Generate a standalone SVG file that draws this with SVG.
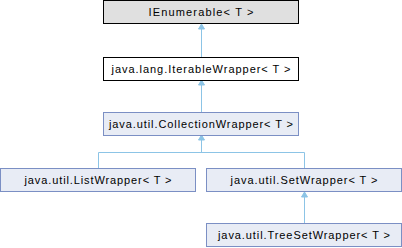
<svg xmlns="http://www.w3.org/2000/svg" width="402" height="248" viewBox="0 0 402 248">
<style>
.box{fill:#E8ECF5;stroke:#7B8FC4;stroke-width:1}
.t{font-family:"Liberation Sans",Arial,sans-serif;font-size:11px;fill:#000;text-anchor:middle}
.e{fill:none;stroke:#8CC4E6;stroke-width:1}
.ah{fill:#8CC4E6;stroke:#8CC4E6;stroke-width:1}
</style>
<rect width="402" height="248" fill="#fff"/>
<g id="connectors">
<path class="e" d="M201.5,58 V29"/>
<polygon class="ah" points="201.5,24 198.5,29 204.5,29"/>
<path class="e" d="M201.5,112 V85"/>
<polygon class="ah" points="201.5,80 198.5,85 204.5,85"/>
<path class="e" d="M98.5,168 V152.5 H304.5 V168"/>
<path class="e" d="M201.5,152.5 V140"/>
<polygon class="ah" points="201.5,135 198.5,140 204.5,140"/>
<path class="e" d="M304.5,223 V197"/>
<polygon class="ah" points="304.5,192 301.5,197 307.5,197"/>
</g>
<g id="n_ienumerable">
<rect x="103.5" y="0.5" width="195" height="23" fill="#E0E0E0" stroke="#000"/>
<text class="t" x="201" y="15.5" textLength="105" lengthAdjust="spacing">IEnumerable&lt; T &gt;</text>
</g>
<g id="n_iterablewrapper">
<rect x="103.5" y="57.5" width="195" height="23" fill="#fff" stroke="#000"/>
<text class="t" x="201" y="73" textLength="179" lengthAdjust="spacing">java.lang.IterableWrapper&lt; T &gt;</text>
</g>
<g id="n_collectionwrapper">
<rect class="box" x="103.5" y="112.5" width="195" height="23"/>
<text class="t" x="201" y="128" textLength="184" lengthAdjust="spacing">java.util.CollectionWrapper&lt; T &gt;</text>
</g>
<g id="n_listwrapper">
<rect class="box" x="0.5" y="168.5" width="195" height="23"/>
<text class="t" x="98" y="184" textLength="147" lengthAdjust="spacing">java.util.ListWrapper&lt; T &gt;</text>
</g>
<g id="n_setwrapper">
<rect class="box" x="206.5" y="168.5" width="195" height="23"/>
<text class="t" x="304" y="184" textLength="147" lengthAdjust="spacing">java.util.SetWrapper&lt; T &gt;</text>
</g>
<g id="n_treesetwrapper">
<rect class="box" x="206.5" y="223.5" width="195" height="23"/>
<text class="t" x="304" y="239" textLength="172" lengthAdjust="spacing">java.util.TreeSetWrapper&lt; T &gt;</text>
</g>
</svg>
